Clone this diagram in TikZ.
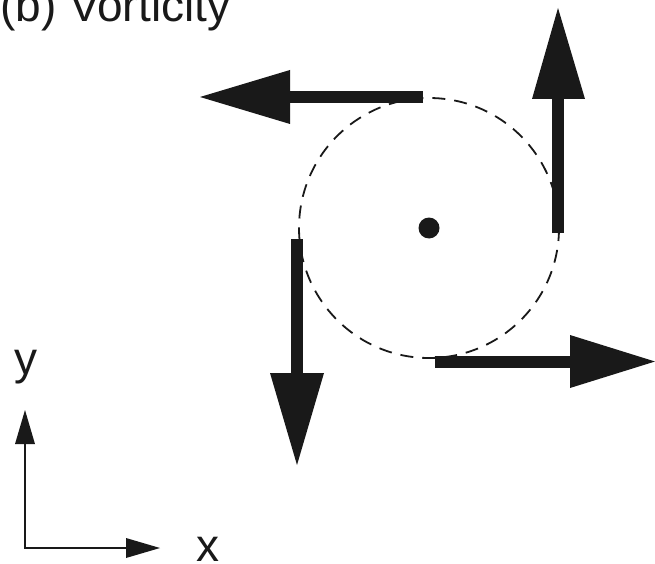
\documentclass[tikz,border=0pt]{standalone}
\usepackage{fontspec}
\setmainfont{Liberation Sans}
\begin{document}
\begin{tikzpicture}[x=1pt,y=-1pt,
  lbl/.style={inner sep=0pt,anchor=base west,font=\fontsize{46}{52}\selectfont,text=black!90},
  shaft/.style={line width=12pt,black!90,line cap=butt},
  headfill/.style={fill=black!90},
  axis/.style={line width=2.5pt,black!90,line join=miter},
  circ/.style={line width=1.8pt,black!90,dash pattern=on 13pt off 9pt}]
\useasboundingbox (0,0) rectangle (655,564);
\clip (0,0) rectangle (655,564);
% title
\node[lbl] (title) at (0,22) {(b) Vorticity};
% dashed circle and centre dot
\coordinate (c) at (429,228);
\draw[circ] (c) circle[radius=130];
\node[circle,fill=black!90,minimum size=21pt,inner sep=0pt] (dot) at (c) {};
% top arrow (pointing left)
\coordinate (t0) at (423,97); \coordinate (t1) at (289,97);
\draw[shaft] (t0) -- (t1);
\fill[headfill] (290,70) -- (290,124) -- (200,97) -- cycle;
% right arrow (pointing up)
\coordinate (r0) at (558,233); \coordinate (r1) at (558,98);
\draw[shaft] (r0) -- (r1);
\fill[headfill] (532,99) -- (585,99) -- (558,8) -- cycle;
% bottom arrow (pointing right)
\coordinate (b0) at (435,361.5); \coordinate (b1) at (571,361.5);
\draw[shaft] (b0) -- (b1);
\fill[headfill] (570,335) -- (570,388) -- (655,361.5) -- cycle;
% left arrow (pointing down)
\coordinate (l0) at (297,239); \coordinate (l1) at (297,374);
\draw[shaft] (l0) -- (l1);
\fill[headfill] (270,373) -- (324,373) -- (297,465) -- cycle;
% axes
\coordinate (o) at (25,548);
\coordinate (ya) at (25,443); \coordinate (xa) at (127,548);
\draw[axis] (ya) -- (o) -- (xa);
\fill[headfill] (15,444) -- (35,444) -- (25,410) -- cycle;
\fill[headfill] (126,538) -- (126,558) -- (160,548) -- cycle;
\node[lbl] (ylabel) at (14,374) {y};
\node[lbl] (xlabel) at (196,561) {x};
\end{tikzpicture}
\end{document}
